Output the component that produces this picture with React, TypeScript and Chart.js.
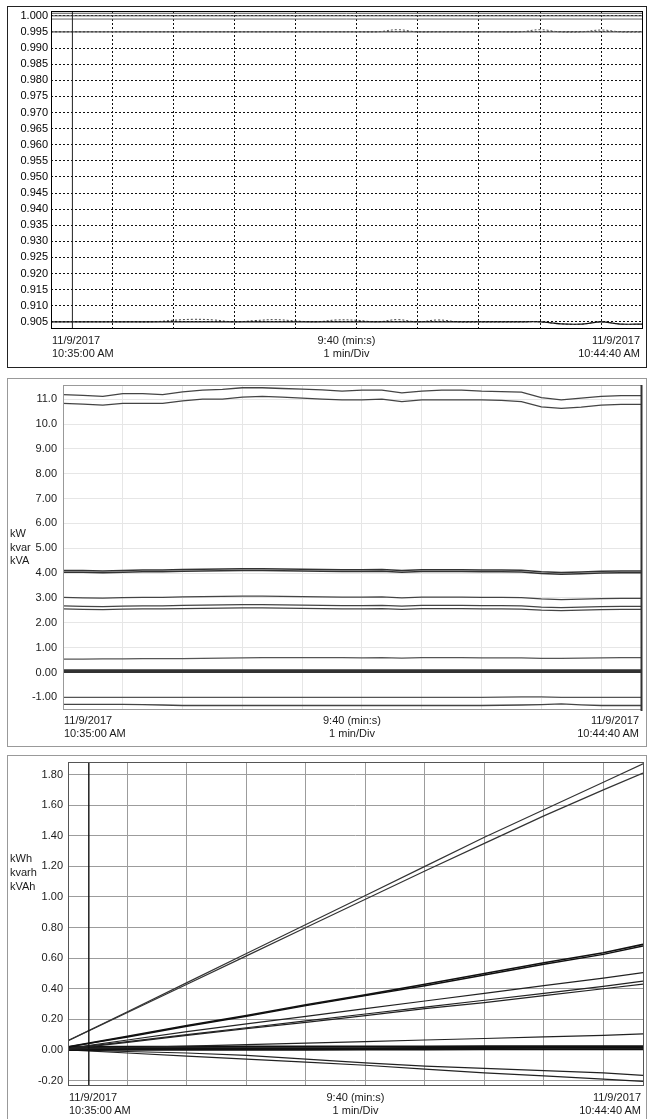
import React, { useEffect, useRef } from "react";
import { Chart, registerables } from "chart.js";
Chart.register(...registerables);

const FONT = "'Liberation Sans', Arial, Helvetica, sans-serif";

// time axis: seconds after 11/9/2017 10:35:00 AM, span 9:40
const T_END = 580;
const MINUTE_TICKS = [60, 120, 180, 240, 300, 360, 420, 480, 540];
const CURSOR_T = 21;

const START_DATE = "11/9/2017";
const START_TIME = "10:35:00 AM";
const END_DATE = "11/9/2017";
const END_TIME = "10:44:40 AM";
const SPAN_LABEL = "9:40 (min:s)";
const DIV_LABEL = "1 min/Div";

// ---------- Panel 1 : power factor ----------
const PF_TIMES = [0, 20, 40, 60, 80, 100, 120, 140, 160, 180, 200, 220, 240, 260, 280, 300, 320, 340, 360, 380, 400, 420, 440, 460, 480, 500, 520, 540, 560, 580];
const PF_FLAT_TIMES = [0, 580];
const PF_TICKS = [0.905, 0.91, 0.915, 0.92, 0.925, 0.93, 0.935, 0.94, 0.945, 0.95, 0.955, 0.96, 0.965, 0.97, 0.975, 0.98, 0.985, 0.99, 0.995, 1.0];
const PF_TOP_A = [1.0008, 1.0008];
const PF_TOP_B = [1.0, 1.0];
const PF_TOP_C = [0.999, 0.999];
const PF_MID_SOLID = [0.995, 0.995];
const PF_MID_DOTTED = [0.995, 0.995, 0.995, 0.995, 0.995, 0.995, 0.995, 0.995, 0.995, 0.995, 0.995, 0.995, 0.995, 0.995, 0.995, 0.995, 0.995, 0.9957, 0.995, 0.995, 0.995, 0.995, 0.995, 0.995, 0.9957, 0.995, 0.995, 0.9956, 0.995, 0.995];
const PF_LOW_SOLID = [0.905, 0.905, 0.905, 0.905, 0.905, 0.905, 0.905, 0.905, 0.905, 0.905, 0.905, 0.905, 0.905, 0.905, 0.905, 0.905, 0.905, 0.905, 0.905, 0.905, 0.905, 0.905, 0.905, 0.905, 0.905, 0.9044, 0.9043, 0.905, 0.9043, 0.9043];
const PF_LOW_DOTTED = [0.905, 0.905, 0.905, 0.905, 0.905, 0.905, 0.9055, 0.9058, 0.9056, 0.905, 0.9054, 0.9057, 0.9053, 0.905, 0.9056, 0.9055, 0.905, 0.9057, 0.905, 0.9056, 0.905, 0.905, 0.905, 0.905, 0.905, 0.9044, 0.9043, 0.905, 0.9043, 0.9043];

// ---------- Panel 2 : kW / kvar / kVA ----------
const P2_TIMES = [0, 20, 40, 60, 80, 100, 120, 140, 160, 180, 200, 220, 240, 260, 280, 300, 320, 340, 360, 380, 400, 420, 440, 460, 480, 500, 520, 540, 560, 580];
const P2_FLAT_TIMES = [0, 580];
const P2_TICKS = [-1, 0, 1, 2, 3, 4, 5, 6, 7, 8, 9, 10, 11];
const KVA_TOP = [11.18, 11.15, 11.11, 11.22, 11.22, 11.18, 11.29, 11.36, 11.39, 11.46, 11.46, 11.43, 11.4, 11.37, 11.32, 11.36, 11.36, 11.25, 11.32, 11.36, 11.36, 11.32, 11.3, 11.28, 11.06, 10.97, 11.04, 11.11, 11.14, 11.14];
const KW_TOP = [10.83, 10.8, 10.76, 10.83, 10.83, 10.83, 10.93, 11.0, 11.0, 11.08, 11.11, 11.08, 11.04, 11.0, 10.97, 10.97, 11.0, 10.9, 10.97, 10.97, 10.97, 10.97, 10.95, 10.9, 10.69, 10.63, 10.68, 10.76, 10.79, 10.79];
const KVA_PH1 = [4.1, 4.1, 4.08, 4.1, 4.12, 4.12, 4.14, 4.15, 4.16, 4.17, 4.17, 4.16, 4.15, 4.14, 4.13, 4.13, 4.14, 4.1, 4.13, 4.13, 4.13, 4.12, 4.12, 4.11, 4.05, 4.02, 4.04, 4.07, 4.08, 4.08];
const KVA_PH2 = [4.03, 4.03, 4.01, 4.03, 4.05, 4.05, 4.07, 4.08, 4.09, 4.1, 4.1, 4.09, 4.08, 4.07, 4.06, 4.06, 4.07, 4.03, 4.06, 4.06, 4.06, 4.05, 4.05, 4.04, 3.98, 3.95, 3.97, 4.0, 4.01, 4.01];
const KVA_PH3 = [3.02, 3.0, 2.99, 3.01, 3.02, 3.02, 3.04, 3.05, 3.06, 3.07, 3.07, 3.06, 3.05, 3.04, 3.03, 3.03, 3.04, 3.0, 3.03, 3.03, 3.03, 3.02, 3.02, 3.01, 2.96, 2.93, 2.95, 2.97, 2.98, 2.98];
const KW_PH1 = [2.68, 2.66, 2.65, 2.67, 2.68, 2.68, 2.7, 2.71, 2.72, 2.73, 2.73, 2.72, 2.71, 2.7, 2.69, 2.69, 2.7, 2.67, 2.7, 2.7, 2.7, 2.69, 2.69, 2.68, 2.63, 2.61, 2.63, 2.65, 2.66, 2.66];
const KW_PH2 = [2.56, 2.54, 2.53, 2.55, 2.56, 2.56, 2.57, 2.58, 2.59, 2.6, 2.6, 2.59, 2.58, 2.57, 2.56, 2.56, 2.57, 2.54, 2.57, 2.57, 2.57, 2.56, 2.56, 2.55, 2.51, 2.49, 2.51, 2.53, 2.54, 2.54];
const KW_PH3 = [0.54, 0.54, 0.55, 0.55, 0.56, 0.56, 0.56, 0.57, 0.58, 0.59, 0.6, 0.6, 0.6, 0.6, 0.6, 0.59, 0.6, 0.58, 0.6, 0.6, 0.6, 0.59, 0.59, 0.59, 0.57, 0.57, 0.58, 0.59, 0.6, 0.6];
const KVAR_A = [0.08, 0.08];
const KVAR_B = [0.03, 0.03];
const KVAR_C = [-1.0, -1.0, -1.0, -1.0, -1.0, -1.0, -1.0, -1.0, -1.0, -1.0, -1.0, -1.0, -1.0, -1.0, -1.0, -1.0, -1.0, -1.0, -1.0, -1.0, -1.0, -1.0, -0.99, -0.98, -0.98, -1.0, -1.0, -1.0, -1.0, -1.0];
const KVAR_D = [-1.28, -1.28, -1.28, -1.28, -1.29, -1.31, -1.33, -1.33, -1.33, -1.33, -1.33, -1.33, -1.33, -1.33, -1.33, -1.33, -1.33, -1.33, -1.33, -1.33, -1.33, -1.33, -1.32, -1.31, -1.29, -1.26, -1.3, -1.33, -1.33, -1.33];

// ---------- Panel 3 : kWh / kvarh / kVAh ----------
const E_TIMES = [0, 60, 120, 180, 240, 300, 360, 420, 480, 540, 580];
const E_TICKS = [-0.2, 0, 0.2, 0.4, 0.6, 0.8, 1.0, 1.2, 1.4, 1.6, 1.8];
const KVAH_TOT = [0.06, 0.25, 0.44, 0.63, 0.82, 1.01, 1.2, 1.39, 1.57, 1.75, 1.87];
const KWH_TOT = [0.06, 0.245, 0.43, 0.615, 0.8, 0.985, 1.17, 1.35, 1.53, 1.7, 1.81];
const KVAH_PH1 = [0.02, 0.09, 0.16, 0.225, 0.295, 0.36, 0.43, 0.5, 0.57, 0.635, 0.69];
const KVAH_PH2 = [0.02, 0.085, 0.155, 0.22, 0.29, 0.355, 0.42, 0.49, 0.56, 0.625, 0.68];
const KVAH_PH3 = [0.01, 0.065, 0.12, 0.17, 0.22, 0.27, 0.32, 0.37, 0.42, 0.47, 0.505];
const KWH_PH1 = [0.01, 0.055, 0.1, 0.145, 0.19, 0.235, 0.28, 0.325, 0.37, 0.415, 0.45];
const KWH_PH2 = [0.005, 0.05, 0.095, 0.14, 0.18, 0.225, 0.27, 0.31, 0.355, 0.4, 0.43];
const KWH_PH3 = [0.005, 0.015, 0.025, 0.035, 0.045, 0.055, 0.065, 0.075, 0.085, 0.095, 0.105];
const KVARH_A = [0.02, 0.021, 0.021, 0.022, 0.022, 0.023, 0.023, 0.024, 0.024, 0.025, 0.025];
const KVARH_B = [0.01, 0.01, 0.011, 0.011, 0.012, 0.012, 0.013, 0.013, 0.014, 0.014, 0.015];
const KVARH_C = [0.0, 0.001, 0.001, 0.002, 0.002, 0.003, 0.003, 0.004, 0.004, 0.005, 0.005];
const KVARH_D = [0.0, -0.01, -0.02, -0.035, -0.06, -0.085, -0.105, -0.12, -0.135, -0.15, -0.166];
const KVARH_E = [0.0, -0.02, -0.04, -0.06, -0.08, -0.1, -0.125, -0.15, -0.17, -0.19, -0.205];

const pts = (xs: number[], ys: number[]) => xs.map((x, i) => ({ x, y: ys[i] }));

function line(xs: number[], ys: number[], color: string, width: number, extra: any = {}) {
  return { data: pts(xs, ys), borderColor: color, borderWidth: width, pointRadius: 0, fill: false, tension: 0, ...extra };
}

type Cfg = {
  height: number;
  plotLeft: number;
  plotRight: number;
  plotTop: number;
  plotBottom: number;
  yMin: number;
  yMax: number;
  yTicks: number[];
  fmt: (v: number) => string;
  tickPad: number;
  tickColor: string;
  gridColor: string;
  gridDash: number[];
  frame: (ctx: CanvasRenderingContext2D, a: any) => void;
  datasets: any[];
};

function buildConfig(p: Cfg): any {
  return {
    type: "line",
    data: { datasets: p.datasets },
    options: {
      animation: false,
      responsive: false,
      maintainAspectRatio: false,
      events: [],
      layout: { padding: { left: 0, right: 648 - p.plotRight, top: p.plotTop, bottom: p.height - p.plotBottom } },
      plugins: { legend: { display: false }, tooltip: { enabled: false }, title: { display: false } },
      elements: { point: { radius: 0, hoverRadius: 0 } },
      scales: {
        x: {
          type: "linear",
          min: 0,
          max: T_END,
          ticks: { display: false },
          grid: { color: p.gridColor, lineWidth: 1, drawTicks: false },
          border: { display: false, dash: p.gridDash },
          afterBuildTicks: (s: any) => {
            s.ticks = MINUTE_TICKS.map((v) => ({ value: v }));
          },
          afterFit: (s: any) => {
            s.height = 0;
            s.paddingLeft = 0;
            s.paddingRight = 0;
            s.paddingTop = 0;
            s.paddingBottom = 0;
          },
        },
        y: {
          type: "linear",
          min: p.yMin,
          max: p.yMax,
          ticks: {
            padding: p.tickPad,
            color: p.tickColor,
            font: { family: FONT, size: 11 },
            autoSkip: false,
            callback: (v: any) => p.fmt(Number(v)),
          },
          grid: { color: p.gridColor, lineWidth: 1, drawTicks: false },
          border: { display: false, dash: p.gridDash },
          afterBuildTicks: (s: any) => {
            s.ticks = p.yTicks.map((v) => ({ value: v }));
          },
          afterFit: (s: any) => {
            s.width = p.plotLeft;
            s.paddingTop = 0;
            s.paddingBottom = 0;
          },
        },
      },
    },
    plugins: [
      {
        id: "frame",
        afterDraw(chart: any) {
          p.frame(chart.ctx, chart.chartArea);
        },
      },
    ],
  };
}

function ChartCanvas({ top, height, make }: { top: number; height: number; make: () => any }) {
  const ref = useRef<HTMLCanvasElement>(null);
  useEffect(() => {
    const chart = new Chart(ref.current as HTMLCanvasElement, make());
    return () => chart.destroy();
  }, []);
  return (
    <canvas
      ref={ref}
      width={648}
      height={height}
      style={{ position: "absolute", left: 0, top, width: 648, height, display: "block" }}
    />
  );
}

const P1 = { top: 0, height: 372, plotLeft: 51, plotRight: 642, plotTop: 11, plotBottom: 328, yMin: 0.9031, yMax: 1.0015 };
const P2 = { top: 372, height: 380, plotLeft: 63, plotRight: 641, plotTop: 13, plotBottom: 337, yMin: -1.47, yMax: 11.57 };
const P3 = { top: 750, height: 369, plotLeft: 68, plotRight: 643, plotTop: 12, plotBottom: 335, yMin: -0.229, yMax: 1.882 };

const make1 = () =>
  buildConfig({
    ...P1,
    yTicks: PF_TICKS,
    fmt: (v) => v.toFixed(3),
    tickPad: 3,
    tickColor: "#000",
    gridColor: "#111",
    gridDash: [2, 2],
    frame: (ctx, a) => {
      ctx.save();
      ctx.strokeStyle = "#000";
      ctx.lineWidth = 1;
      ctx.strokeRect(a.left + 0.5, a.top + 0.5, a.right - a.left, a.bottom - a.top);
      ctx.restore();
    },
    datasets: [
      line([CURSOR_T, CURSOR_T], [P1.yMin, P1.yMax], "#222", 1),
      line(PF_FLAT_TIMES, PF_TOP_A, "#555", 1),
      line(PF_FLAT_TIMES, PF_TOP_B, "#444", 1),
      line(PF_FLAT_TIMES, PF_TOP_C, "#666", 1),
      line(PF_FLAT_TIMES, PF_MID_SOLID, "#555", 1.2),
      line(PF_TIMES, PF_MID_DOTTED, "#555", 1, { borderDash: [2, 2], tension: 0.4 }),
      line(PF_TIMES, PF_LOW_SOLID, "#111", 1.2, { tension: 0.3 }),
      line(PF_TIMES, PF_LOW_DOTTED, "#444", 1, { borderDash: [2, 2], tension: 0.4 }),
    ],
  });

const make2 = () =>
  buildConfig({
    ...P2,
    yTicks: P2_TICKS,
    fmt: (v) => (Math.abs(v) >= 10 ? v.toFixed(1) : v.toFixed(2)),
    tickPad: 6,
    tickColor: "#1a1a1a",
    gridColor: "#e6e6e6",
    gridDash: [],
    frame: (ctx, a) => {
      ctx.save();
      ctx.strokeStyle = "#999";
      ctx.lineWidth = 1;
      ctx.strokeRect(a.left + 0.5, a.top + 0.5, a.right - a.left, a.bottom - a.top);
      ctx.strokeStyle = "#333";
      ctx.lineWidth = 2;
      ctx.beginPath();
      ctx.moveTo(a.right + 0.5, a.top);
      ctx.lineTo(a.right + 0.5, a.bottom + 2);
      ctx.stroke();
      ctx.restore();
    },
    datasets: [
      line(P2_TIMES, KVA_TOP, "#444", 1.3),
      line(P2_TIMES, KW_TOP, "#444", 1.3),
      line(P2_TIMES, KVA_PH1, "#333", 1.5),
      line(P2_TIMES, KVA_PH2, "#333", 1.5),
      line(P2_TIMES, KVA_PH3, "#444", 1.3),
      line(P2_TIMES, KW_PH1, "#444", 1.3),
      line(P2_TIMES, KW_PH2, "#444", 1.3),
      line(P2_TIMES, KW_PH3, "#555", 1.3),
      line(P2_FLAT_TIMES, KVAR_A, "#333", 2.5),
      line(P2_FLAT_TIMES, KVAR_B, "#333", 2.5),
      line(P2_TIMES, KVAR_C, "#555", 1.3),
      line(P2_TIMES, KVAR_D, "#444", 1.3),
    ],
  });

const make3 = () =>
  buildConfig({
    ...P3,
    yTicks: E_TICKS,
    fmt: (v) => v.toFixed(2),
    tickPad: 5,
    tickColor: "#1a1a1a",
    gridColor: "#9c9c9c",
    gridDash: [],
    frame: (ctx, a) => {
      ctx.save();
      ctx.strokeStyle = "#555";
      ctx.lineWidth = 1;
      ctx.strokeRect(a.left + 0.5, a.top + 0.5, a.right - a.left, a.bottom - a.top);
      ctx.restore();
    },
    datasets: [
      line([CURSOR_T, CURSOR_T], [P3.yMin, P3.yMax], "#111", 1.4),
      line(E_TIMES, KVAH_TOT, "#333", 1.2),
      line(E_TIMES, KWH_TOT, "#333", 1.2),
      line(E_TIMES, KVAH_PH1, "#111", 1.6),
      line(E_TIMES, KVAH_PH2, "#111", 1.4),
      line(E_TIMES, KVAH_PH3, "#222", 1.2),
      line(E_TIMES, KWH_PH1, "#222", 1.2),
      line(E_TIMES, KWH_PH2, "#222", 1.2),
      line(E_TIMES, KWH_PH3, "#222", 1.2),
      line(E_TIMES, KVARH_A, "#111", 2),
      line(E_TIMES, KVARH_B, "#111", 2),
      line(E_TIMES, KVARH_C, "#111", 2),
      line(E_TIMES, KVARH_D, "#222", 1.2),
      line(E_TIMES, KVARH_E, "#222", 1.2),
    ],
  });

const textStyle: React.CSSProperties = {
  position: "absolute",
  fontFamily: FONT,
  fontSize: 11,
  lineHeight: "13px",
  color: "#1a1a1a",
  whiteSpace: "nowrap",
};

function TimeLabels({ left, right, top }: { left: number; right: number; top: number }) {
  const center = (left + right) / 2;
  return (
    <>
      <div style={{ ...textStyle, left: left + 1, top }}>
        {START_DATE}
        <br />
        {START_TIME}
      </div>
      <div style={{ ...textStyle, left: center - 100, width: 200, textAlign: "center", top }}>
        {SPAN_LABEL}
        <br />
        {DIV_LABEL}
      </div>
      <div style={{ ...textStyle, left: right - 202, width: 200, textAlign: "right", top }}>
        {END_DATE}
        <br />
        {END_TIME}
      </div>
    </>
  );
}

export default function App() {
  return (
    <div style={{ position: "absolute", left: 0, top: 0, width: 648, height: 1119, overflow: "hidden", background: "#fff" }}>
      <div style={{ position: "absolute", left: 7, top: 6, width: 640, height: 362, border: "1px solid #222", boxSizing: "border-box" }} />
      <div style={{ position: "absolute", left: 7, top: 378, width: 640, height: 369, border: "1px solid #999", boxSizing: "border-box" }} />
      <div style={{ position: "absolute", left: 7, top: 755, width: 640, height: 372, border: "1px solid #999", boxSizing: "border-box" }} />

      <ChartCanvas top={P1.top} height={P1.height} make={make1} />
      <ChartCanvas top={P2.top} height={P2.height} make={make2} />
      <ChartCanvas top={P3.top} height={P3.height} make={make3} />

      <TimeLabels left={P1.plotLeft} right={P1.plotRight} top={P1.top + P1.plotBottom + 6} />
      <TimeLabels left={P2.plotLeft} right={P2.plotRight} top={P2.top + P2.plotBottom + 5} />
      <TimeLabels left={P3.plotLeft} right={P3.plotRight} top={P3.top + P3.plotBottom + 6} />

      <div style={{ ...textStyle, left: 10, top: 527, lineHeight: "13.5px" }}>
        kW
        <br />
        kvar
        <br />
        kVA
      </div>
      <div style={{ ...textStyle, left: 10, top: 851, lineHeight: "14px" }}>
        kWh
        <br />
        kvarh
        <br />
        kVAh
      </div>
    </div>
  );
}
